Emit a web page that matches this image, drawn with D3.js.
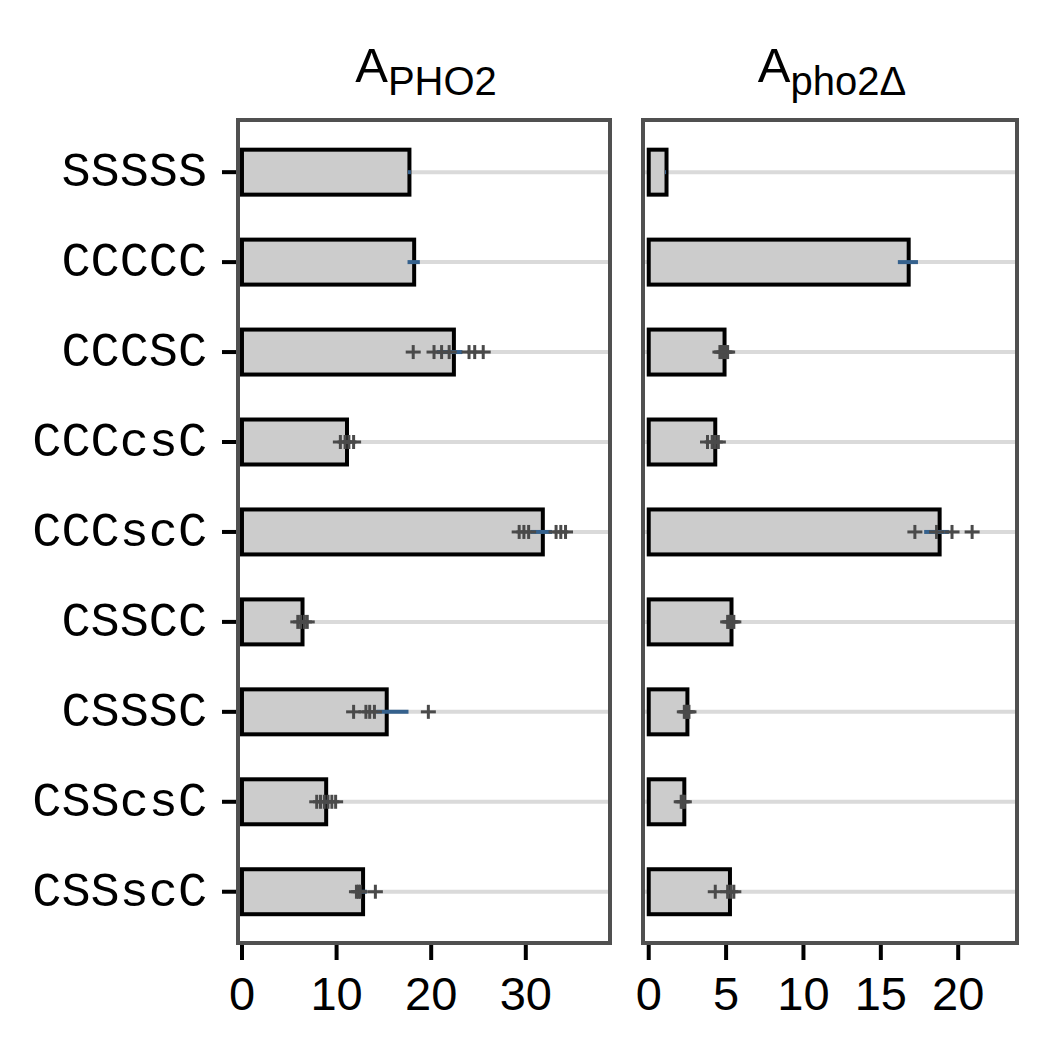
<!DOCTYPE html>
<html>
<head>
<meta charset="utf-8">
<script src="https://cdn.jsdelivr.net/npm/d3@7"></script>
<style>
  html, body { margin: 0; padding: 0; background: #fff; }
  svg { display: block; }
</style>
</head>
<body>
<svg id="chart" width="1050" height="1050"></svg>
<script>
// ---- data ----
const categories = ["SSSSS", "CCCCC", "CCCSC", "CCCcsC", "CCCscC", "CSSCC", "CSSSC", "CSScsC", "CSSscC"];

const phoMeans = [17.7, 18.2, 22.4, 11.1, 31.8, 6.4, 15.3, 8.9, 12.8];
const phoErrLo = [17.55, 17.5, 20.6, 10.7, 30.5, 6.1, 14.2, 8.6, 12.4];
const phoErrHi = [17.85, 18.8, 23.3, 11.5, 32.8, 6.7, 17.6, 9.2, 13.2];
const phoPoints = [
  [], [],
  [18.1, 20.3, 21.1, 21.9, 24.0, 24.6, 25.5],
  [10.4, 10.9, 11.3, 11.8],
  [29.3, 29.8, 30.3, 33.2, 33.7, 34.2],
  [5.9, 6.2, 6.6, 6.9],
  [11.8, 13.1, 13.5, 14.0, 19.7],
  [7.9, 8.3, 8.7, 9.1, 9.5, 9.9],
  [12.1, 12.3, 12.5, 14.1]
];

const delMeans = [1.15, 16.8, 4.9, 4.3, 18.8, 5.35, 2.5, 2.3, 5.25];
const delErrLo = [1.05, 16.1, 4.7, 4.1, 17.8, 5.2, 2.35, 2.2, 5.0];
const delErrHi = [1.12, 17.4, 5.0, 4.45, 19.4, 5.5, 2.65, 2.4, 5.5];
const delPoints = [
  [], [],
  [4.6, 4.7, 4.8, 4.9, 5.0, 5.1],
  [3.8, 4.1, 4.3, 4.5],
  [17.2, 18.6, 19.6, 20.9],
  [5.1, 5.2, 5.3, 5.4, 5.5],
  [2.3, 2.4, 2.5, 2.6],
  [2.1, 2.2, 2.3],
  [4.3, 5.1, 5.3, 5.5]
];

const phoTicks = [0, 10, 20, 30];
const delTicks = [0, 5, 10, 15, 20];

// ---- layout ----
const svg = d3.select("#chart");
const plotTop = 120, plotBottom = 943;
const y = d3.scaleLinear().domain([-0.58, 8.57]).range([plotTop, plotBottom]);
const barH = 0.5; // in category units

const panels = [
  { x0: 238, x1: 610, domain: [-0.42, 38.9], means: phoMeans, lo: phoErrLo, hi: phoErrHi, pts: phoPoints, ticks: phoTicks, title: "A", sub: "PHO2", yLabels: true },
  { x0: 643, x1: 1017, domain: [-0.37, 23.8], means: delMeans, lo: delErrLo, hi: delErrHi, pts: delPoints, ticks: delTicks, title: "A", sub: "pho2\u0394", yLabels: false }
];

const frameColor = "#505050";
const blue = "#35618d";
const ptColor = "#4a4a4a";

panels.forEach(p => {
  const x = d3.scaleLinear().domain(p.domain).range([p.x0, p.x1]);
  const g = svg.append("g");

  // grid lines
  g.selectAll("line.grid").data(categories).join("line")
    .attr("class", "grid")
    .attr("x1", p.x0).attr("x2", p.x1)
    .attr("y1", (d, i) => y(i)).attr("y2", (d, i) => y(i))
    .attr("stroke", "#dadada").attr("stroke-width", 4);

  // bars
  g.selectAll("rect.bar").data(p.means).join("rect")
    .attr("class", "bar")
    .attr("x", x(0))
    .attr("y", (d, i) => y(i - barH / 2))
    .attr("width", d => x(d) - x(0))
    .attr("height", y(barH) - y(0))
    .attr("fill", "#cccccc").attr("stroke", "#000").attr("stroke-width", 4);

  // error lines
  g.selectAll("line.err").data(p.means).join("line")
    .attr("class", "err")
    .attr("x1", (d, i) => x(p.lo[i])).attr("x2", (d, i) => x(p.hi[i]))
    .attr("y1", (d, i) => y(i)).attr("y2", (d, i) => y(i))
    .attr("stroke", blue).attr("stroke-width", 4);

  // points (+ markers)
  const flat = [];
  p.pts.forEach((arr, i) => arr.forEach(v => flat.push({ i, v })));
  const pg = g.selectAll("g.pt").data(flat).join("g")
    .attr("class", "pt")
    .attr("transform", d => `translate(${x(d.v)},${y(d.i)})`);
  pg.append("line").attr("x1", -7.5).attr("x2", 7.5).attr("y1", 0).attr("y2", 0)
    .attr("stroke", ptColor).attr("stroke-width", 3);
  pg.append("line").attr("x1", 0).attr("x2", 0).attr("y1", -7).attr("y2", 7)
    .attr("stroke", ptColor).attr("stroke-width", 3);

  // frame
  g.append("rect")
    .attr("x", p.x0).attr("y", plotTop)
    .attr("width", p.x1 - p.x0).attr("height", plotBottom - plotTop)
    .attr("fill", "none").attr("stroke", frameColor).attr("stroke-width", 4);

  // x axis ticks
  g.selectAll("line.xt").data(p.ticks).join("line")
    .attr("class", "xt")
    .attr("x1", d => x(d)).attr("x2", d => x(d))
    .attr("y1", plotBottom + 2).attr("y2", plotBottom + 17)
    .attr("stroke", "#000").attr("stroke-width", 4);
  g.selectAll("text.xl").data(p.ticks).join("text")
    .attr("class", "xl")
    .attr("x", d => x(d)).attr("y", 1010)
    .attr("text-anchor", "middle")
    .attr("font-family", "'Liberation Sans', Arial, sans-serif")
    .attr("font-size", 47)
    .attr("fill", "#000")
    .text(d => d);

  // title
  const t = g.append("text")
    .attr("x", (p.x0 + p.x1) / 2 + 2).attr("y", 82)
    .attr("text-anchor", "middle")
    .attr("font-family", "'Liberation Sans', Arial, sans-serif")
    .attr("fill", "#000");
  t.append("tspan").attr("font-size", 49).text(p.title);
  t.append("tspan").attr("font-size", 40).attr("dy", 13).text(p.sub);

  // y axis
  if (p.yLabels) {
    g.selectAll("line.yt").data(categories).join("line")
      .attr("class", "yt")
      .attr("x1", p.x0 - 16).attr("x2", p.x0 - 2)
      .attr("y1", (d, i) => y(i)).attr("y2", (d, i) => y(i))
      .attr("stroke", "#000").attr("stroke-width", 4);
    g.selectAll("text.yl").data(categories).join("text")
      .attr("class", "yl")
      .attr("x", p.x0 - 31).attr("y", (d, i) => y(i))
      .attr("dy", "0.29em")
      .attr("text-anchor", "end")
      .attr("font-family", "'Liberation Mono', 'Courier New', monospace")
      .attr("font-size", 48.5)
      .attr("fill", "#000")
      .text(d => d);
  }
});
</script>
</body>
</html>
